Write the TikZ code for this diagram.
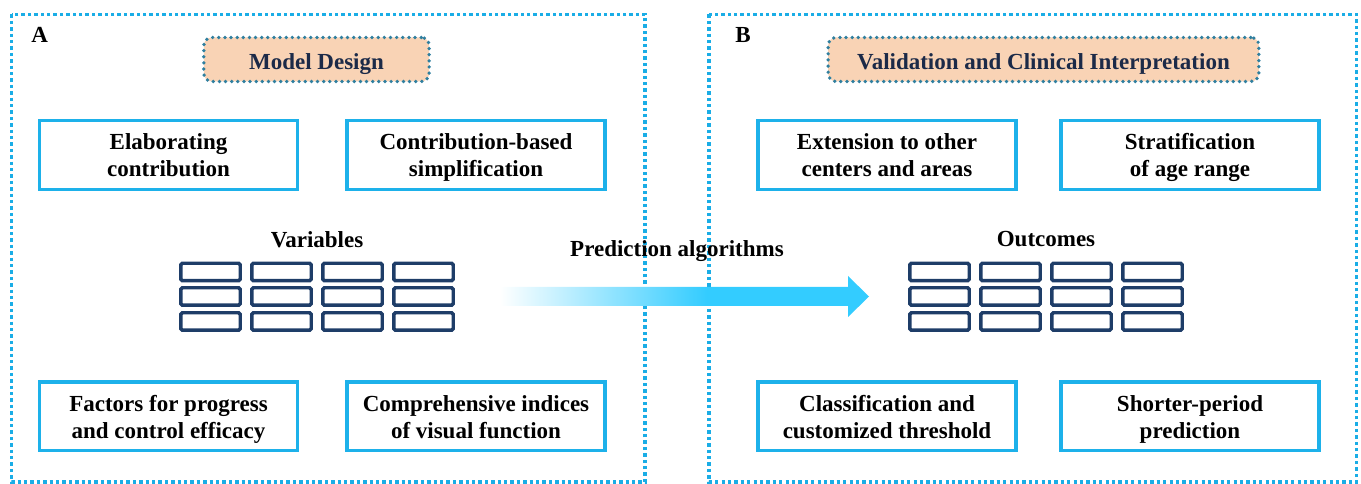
\documentclass[tikz,border=0pt]{standalone}
\usepackage{fontspec}
\setmainfont{Liberation Serif}
\definecolor{framecyan}{HTML}{1AADE6}
\definecolor{boxcyan}{HTML}{1DB1EA}
\definecolor{navy}{HTML}{1E3D68}
\definecolor{peach}{HTML}{F9D3B5}
\definecolor{titleborder}{HTML}{2F7F9F}
\definecolor{titletext}{HTML}{1C2A48}
\definecolor{arrowcyan}{HTML}{33CCFF}
\pgfdeclarehorizontalshading{arrowshade}{100bp}{color(0bp)=(white); color(25bp)=(white); color(53bp)=(arrowcyan); color(100bp)=(arrowcyan)}
\newcommand\bigbf{\fontsize{17.25}{20.25}\selectfont\bfseries}
\newcommand\twolines[2]{\rule{0pt}{18pt}#1\\#2\rule[-5.25pt]{0pt}{5.25pt}}
\tikzset{
  panelframe/.style={draw=framecyan, line width=2.6pt, dash pattern=on 2.5pt off 2.3pt},
  titlebox/.style={fill=peach, draw=titleborder, line width=2.8pt, line cap=round,
    dash pattern=on 0pt off 4.6pt, rounded corners=6pt, minimum height=33pt, font=\bigbf,
    text=titletext, text height=15.75pt, text depth=0pt},
  textbox/.style={draw=boxcyan, line width=2.6pt, fill=white, minimum width=193.5pt,
    minimum height=51.4pt, align=center, font=\bigbf, inner sep=0pt},
  cell/.style={draw=navy, line width=2.6pt, rounded corners=1.2pt, minimum width=44.6pt,
    minimum height=13.1pt, inner sep=0pt},
  label/.style={font=\bigbf, inner sep=0pt},
}
\begin{document}
\begin{tikzpicture}[x=0.75pt, y=-0.75pt]
\useasboundingbox (0,0) rectangle (1361,484);
% panel frames
\draw[panelframe] (11.5,14.5) rectangle (645,482);
\draw[panelframe] (709,14.5) rectangle (1356.5,482);
% panel letters
\node[label, anchor=base west] (lblA) at (31,43) {A};
\node[label, anchor=base west] (lblB) at (735,43) {B};
% titles
\node[titlebox, minimum width=169pt] (titleA) at (316.5,59.5) {Model Design};
\node[titlebox, minimum width=323pt] (titleB) at (1043.5,59.5) {Validation and Clinical Interpretation};
% text boxes panel A
\node[textbox] (elab) at (168.5,155) {\twolines{Elaborating}{contribution}};
\node[textbox] (simp) at (476,155) {\twolines{Contribution-based}{simplification}};
\node[textbox] (fact) at (168.5,416.5) {\twolines{Factors for progress}{and control efficacy}};
\node[textbox] (comp) at (476,416.5) {\twolines{Comprehensive indices}{of visual function}};
% text boxes panel B
\node[textbox] (ext) at (887,155) {\twolines{Extension to other}{centers and areas}};
\node[textbox] (strat) at (1190,155) {\twolines{Stratification}{of age range}};
\node[textbox] (class) at (887,416.5) {\twolines{Classification and}{customized threshold}};
\node[textbox] (short) at (1190,416.5) {\twolines{Shorter-period}{prediction}};
% grids
\node[label] (vars) at (317,240) {Variables};
\node[label] (outc) at (1046,239) {Outcomes};
\foreach \r/\yy in {1/272,2/296.5,3/321.5}{
  \foreach \c in {0,1,2,3}{
    \node[cell] (vL-\r-\c) at (210.5+71*\c,\yy) {};
    \node[cell] (vR-\r-\c) at (939.5+71*\c,\yy) {};
  }
}
% arrow
\coordinate (arrowtail) at (500,296.5);
\coordinate (arrowtip) at (869,296.5);
\shade[shading=arrowshade] (arrowtail) ++(0,-9.5) -- (848,287) -- (848,276) -- (arrowtip)
  -- (848,317) -- (848,306) -- (500,306) -- cycle;
\node[label, anchor=base] (pred) at (677,257) {Prediction algorithms};
\end{tikzpicture}
\end{document}
